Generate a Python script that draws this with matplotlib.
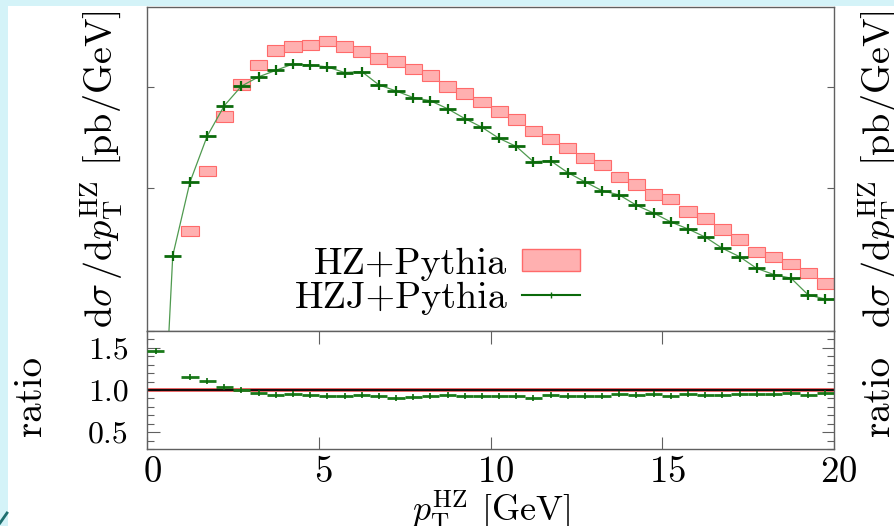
import matplotlib
matplotlib.use('Agg')
import numpy as np
import matplotlib.pyplot as plt
from matplotlib.patches import Rectangle
from matplotlib.lines import Line2D
from matplotlib.ticker import FixedLocator, MultipleLocator, NullFormatter, NullLocator
import matplotlib.transforms as mtrans

plt.rcParams['font.family'] = 'serif'
plt.rcParams['font.serif'] = ['cmr10']
plt.rcParams['mathtext.fontset'] = 'cm'
plt.rcParams['axes.formatter.use_mathtext'] = True

# pT bins, 0.5 GeV wide
edges = np.arange(0, 20.5, 0.5)
centers = edges[:-1] + 0.25

# HZ+Pythia band (pb/GeV)
hz_lo = [5.3e-8, 2.7e-5, 3.35e-4, 1.32e-3, 4.53e-3, 9.33e-3, 1.47e-2, 2.02e-2, 2.24e-2, 2.30e-2,
         2.54e-2, 2.21e-2, 2.00e-2, 1.70e-2, 1.59e-2, 1.34e-2, 1.14e-2, 8.92e-3, 7.60e-3, 6.30e-3,
         5.01e-3, 4.21e-3, 3.25e-3, 2.71e-3, 2.21e-3, 1.76e-3, 1.51e-3, 1.14e-3, 9.62e-4, 7.60e-4,
         6.90e-4, 5.20e-4, 4.43e-4, 3.43e-4, 2.73e-4, 2.06e-4, 1.84e-4, 1.58e-4, 1.28e-4, 1.00e-4]
hz_hi = [6.7e-8, 3.4e-5, 4.24e-4, 1.66e-3, 5.78e-3, 1.19e-2, 1.86e-2, 2.59e-2, 2.84e-2, 2.92e-2,
         3.22e-2, 2.82e-2, 2.53e-2, 2.17e-2, 2.03e-2, 1.70e-2, 1.46e-2, 1.14e-2, 9.66e-3, 8.02e-3,
         6.44e-3, 5.37e-3, 4.14e-3, 3.43e-3, 2.81e-3, 2.21e-3, 1.91e-3, 1.45e-3, 1.23e-3, 9.71e-4,
         8.73e-4, 6.64e-4, 5.65e-4, 4.38e-4, 3.48e-4, 2.62e-4, 2.34e-4, 1.99e-4, 1.62e-4, 1.28e-4]

# HZJ+Pythia (pb/GeV)
hzj = [9.0e-8, 2.14e-4, 1.14e-3, 3.25e-3, 6.53e-3, 1.02e-2, 1.26e-2, 1.46e-2, 1.69e-2, 1.65e-2,
       1.58e-2, 1.39e-2, 1.42e-2, 1.05e-2, 9.13e-3, 7.86e-3, 7.31e-3, 6.09e-3, 4.87e-3, 3.99e-3,
       3.10e-3, 2.58e-3, 1.82e-3, 1.86e-3, 1.42e-3, 1.15e-3, 9.40e-4, 8.53e-4, 6.74e-4, 5.65e-4,
       4.61e-4, 3.93e-4, 3.27e-4, 2.53e-4, 2.09e-4, 1.60e-4, 1.39e-4, 1.28e-4, 8.73e-5, 7.96e-5]

# ratio panel
ratio = [1.46, 7.0, 1.15, 1.105, 1.03, 1.00, 0.97, 0.944, 0.952, 0.944,
         0.927, 0.927, 0.944, 0.923, 0.911, 0.919, 0.927, 0.940, 0.927, 0.927,
         0.923, 0.923, 0.907, 0.940, 0.927, 0.931, 0.923, 0.952, 0.944, 0.952,
         0.931, 0.948, 0.944, 0.944, 0.952, 0.952, 0.952, 0.964, 0.935, 0.960]

xticks = [0, 5, 10, 15, 20]

pink = '#ffb0b0'
red_edge = '#ff6a6a'
green = '#0b6a0b'
light_green = '#4f9a4f'
spine_col = '#606060'

fig = plt.figure(figsize=(8.94, 5.26), dpi=100)
fig.patch.set_facecolor('#d4f3f8')
fig.add_artist(Rectangle((8 / 894, 0), 1, 1 - 6 / 526, transform=fig.transFigure,
                         facecolor='white', edgecolor='none', zorder=0))
fig.add_artist(Line2D([0, 7 / 894], [3 / 526, 13 / 526], transform=fig.transFigure,
                      color='#1f6f6f', lw=2))

ax = fig.add_axes([147 / 894, 1 - 331 / 526, 687 / 894, 324 / 526])
axr = fig.add_axes([147 / 894, 1 - 449 / 526, 687 / 894, 118 / 526])

# main panel
hz_lo = np.array(hz_lo)
hz_hi = np.array(hz_hi)
ax.bar(centers, hz_hi - hz_lo, bottom=hz_lo, width=0.5, color=pink,
       edgecolor=red_edge, linewidth=0.8, zorder=2)
ax.plot(centers, hzj, color=light_green, lw=0.9, zorder=3)
ax.errorbar(centers, hzj, xerr=0.25, fmt='none', ecolor=green, elinewidth=2, zorder=4)
ax.plot(centers, hzj, ls='none', marker='|', ms=7, mew=1.6, color=green, zorder=4)

ax.set_yscale('log')
ax.set_xlim(0, 20)
ax.set_ylim(3.84e-5, 6.19e-2)
ax.yaxis.set_major_locator(FixedLocator([1e-3, 1e-2]))
ax.yaxis.set_minor_locator(NullLocator())
ax.yaxis.set_major_formatter(NullFormatter())
ax.tick_params(axis='y', which='major', direction='in', length=5, width=0.8,
               color=spine_col, left=True, right=True)
ax.tick_params(axis='x', which='both', bottom=False, top=False, labelbottom=False)
for s in ax.spines.values():
    s.set_color(spine_col)
    s.set_linewidth(1.0)

ylab = r'$\mathrm{d}\sigma\,/\mathrm{d}p_\mathrm{T}^{\mathrm{HZ}}$ [pb/GeV]'
ax.set_ylabel(ylab, fontsize=27.5, labelpad=12)
ax.text(1.032, 0.5, ylab, transform=ax.transAxes, rotation=90, fontsize=27.5,
        ha='left', va='center')

handles = [Rectangle((0, 0), 1, 1, facecolor=pink, edgecolor=red_edge, lw=1),
           Line2D([], [], color=green, lw=1.5, marker='|', ms=5, mew=1)]
ax.legend(handles, ['HZ+Pythia', 'HZJ+Pythia'], loc='center right',
          bbox_to_anchor=(0.63, 0.154), frameon=False, markerfirst=False,
          fontsize=27.5, handlelength=1.52, handleheight=0.5, handletextpad=0.37,
          borderpad=0, borderaxespad=0, labelspacing=0.02)

# ratio panel
axr.axhspan(0.982, 1.018, color='#e85050', alpha=0.85, lw=0, zorder=1)
axr.axhline(1.0, color='black', lw=1.3, zorder=2)
axr.errorbar(centers, ratio, xerr=0.25, fmt='none', ecolor='#1a7a1a', elinewidth=2, zorder=3)
axr.plot(centers, ratio, ls='none', marker='|', ms=4, mew=1.2, color=green, zorder=3)

axr.set_xlim(0, 20)
axr.set_ylim(0.3, 1.7)
axr.xaxis.set_major_locator(FixedLocator(xticks))
axr.yaxis.set_major_locator(FixedLocator([0.5, 1.0, 1.5]))
axr.yaxis.set_minor_locator(MultipleLocator(0.1))
axr.set_yticklabels(['0.5', '1.0', '1.5'])
axr.tick_params(axis='both', which='major', direction='in', color=spine_col, width=0.8)
axr.tick_params(axis='x', which='major', length=9, top=True, bottom=True,
                labelsize=26.5, pad=5)
axr.tick_params(axis='y', which='major', length=9, left=True, right=True,
                labelsize=23, pad=13)
axr.tick_params(axis='y', which='minor', direction='in', length=5, width=0.8,
                color=spine_col, left=True, right=True)
axr.tick_params(axis='x', which='minor', bottom=False, top=False)
for s in axr.spines.values():
    s.set_color(spine_col)
    s.set_linewidth(1.0)

shift = mtrans.ScaledTranslation(5 / 100, 0, fig.dpi_scale_trans)
for lab in axr.get_xticklabels():
    lab.set_transform(lab.get_transform() + shift)

axr.set_ylabel('ratio', fontsize=28)
axr.yaxis.set_label_coords(-0.142, 0.45)
axr.text(1.040, 0.45, 'ratio', transform=axr.transAxes, rotation=90, fontsize=28,
         ha='left', va='center')
axr.set_xlabel(r'$p_\mathrm{T}^{\mathrm{HZ}}$ [GeV]', fontsize=26, labelpad=0)

fig.savefig('out.png', dpi=100, facecolor=fig.get_facecolor())
